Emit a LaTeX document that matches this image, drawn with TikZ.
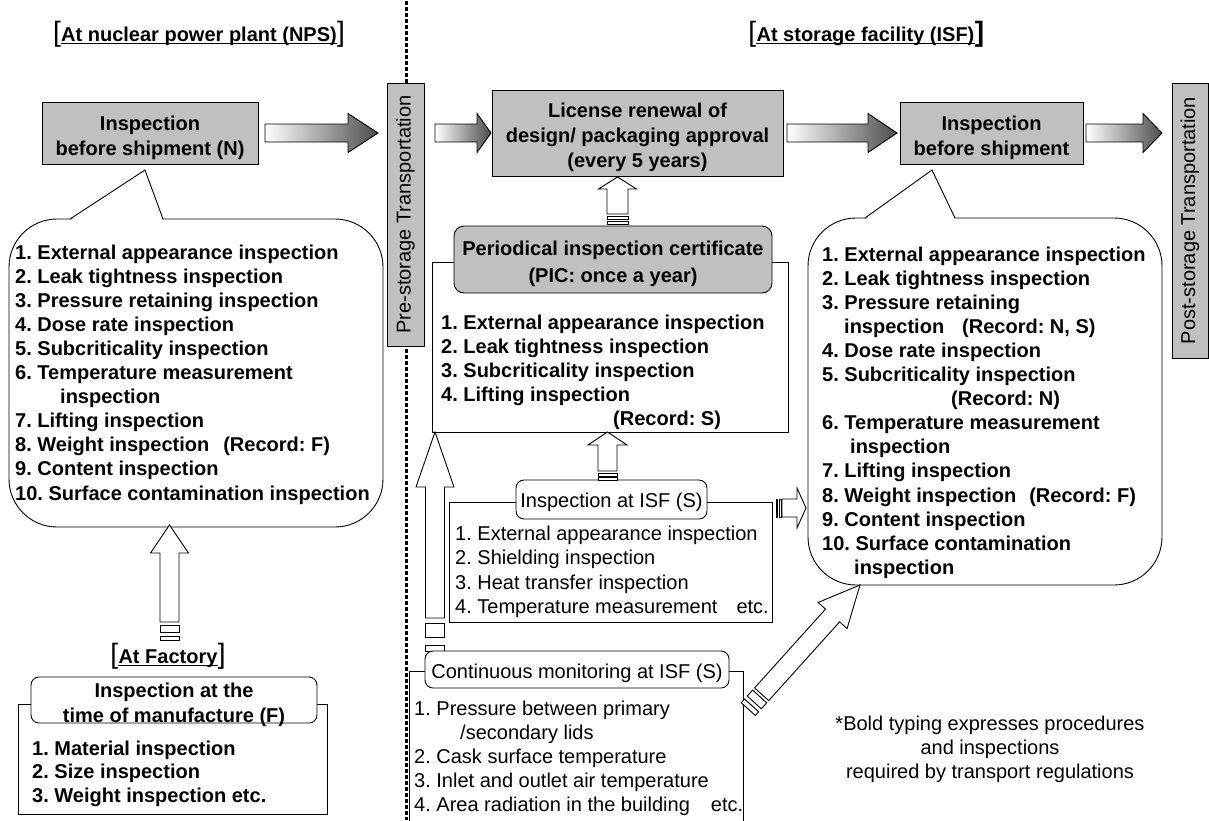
\documentclass[tikz,border=0pt]{standalone}
\usepackage{fontspec}
\setmainfont{Liberation Sans}
\frenchspacing
\definecolor{boxgray}{HTML}{C0C0C0}
\newcommand\blocklines[6]{%
  \foreach \t [count=\i] in {#6}{\node[anchor=base west,#2] (#1\i) at (#3,{#4+#5*(\i-1)}) {\t};}}
\newcommand\gradarrow[4]{%
  \draw[grad] (#1,#4-9) -- (#2-#3,#4-9) -- (#2-#3,#4-19.5) -- (#2,#4) -- (#2-#3,#4+19.5) -- (#2-#3,#4+9) -- (#1,#4+9) -- cycle;}
\newcommand\sarrow[8]{%
  \begin{scope}[shift={(#1,#2)},rotate=#3]
  \draw[hollow] (0,0) -- (-#4,#5) -- (-#4,#6) -- (-#7,#6) -- (-#7,-#6) -- (-#4,-#6) -- (-#4,-#5) -- cycle;
  \foreach \a/\b in {#8} {\draw[hollow] (-\a,-#6) rectangle (-\b,#6);}
  \end{scope}}
\begin{document}
\begin{tikzpicture}[x=1pt,y=-1pt,
  every node/.style={inner sep=0pt, font=\fontsize{20}{24}\selectfont},
  bf/.style={font=\fontsize{20}{24}\selectfont\bfseries},
  brk/.style={font=\fontsize{28}{28}\selectfont},
  brkb/.style={font=\fontsize{28}{28}\selectfont\bfseries},
  ln/.style={line width=0.9pt},
  graybox/.style={draw, line width=0.9pt, fill=boxgray},
  hollow/.style={draw, line width=0.9pt, fill=white},
  grad/.style={draw, line width=0.9pt, left color=white, right color=black!70},
  bubble/.style={draw, line width=0.9pt, fill=white, rounded corners=48pt}]
\useasboundingbox (0,0) rectangle (1209,820);

% dashed separator
\coordinate (dtop) at (406.5,1);
\coordinate (dbot) at (406.5,820);
\draw[line width=2.2pt, dash pattern=on 4pt off 2pt] (dtop) -- (dbot);

% titles
\node[bf, anchor=base] (tnps) at (199,41) {At nuclear power plant (NPS)};
\draw[line width=1.3pt] ([yshift=-2.5pt]tnps.base west) -- ([yshift=-2.5pt]tnps.base east);
\node[brk, anchor=base east] (tnpsl) at (tnps.base west) {[};
\node[brk, anchor=base west] (tnpsr) at (tnps.base east) {]};

\node[bf, anchor=base] (tisf) at (865.5,41) {At storage facility (ISF)};
\draw[line width=1.3pt] ([yshift=-2.5pt]tisf.base west) -- ([yshift=-2.5pt]tisf.base east);
\node[brk, anchor=base east] (tisfl) at (tisf.base west) {[};
\node[brkb, anchor=base west] (tisfr) at (tisf.base east) {]};

\node[bf, anchor=base] (tfac) at (168,663) {At Factory};
\draw[line width=1.3pt] ([yshift=-2.5pt]tfac.base west) -- ([yshift=-2.5pt]tfac.base east);
\node[brk, anchor=base east] (tfacl) at (tfac.base west) {[};
\node[brk, anchor=base west] (tfacr) at (tfac.base east) {]};

% top row boxes
\node[graybox, minimum width=216pt, minimum height=62pt] (nps) at (150,133) {};
\node[bf, anchor=base] (nps1) at (150,130) {Inspection};
\node[bf, anchor=base] (nps2) at (150,155) {before shipment (N)};

\node[graybox, minimum width=37pt, minimum height=263pt] (pre) at (405.5,214.5) {};
\node[rotate=90] (pret) at (pre.center) {Pre-storage Transportation};

\node[graybox, minimum width=291pt, minimum height=86pt] (lic) at (637.5,133) {};
\node[bf, anchor=base] (lic1) at (637.5,117) {License renewal of};
\node[bf, anchor=base] (lic2) at (637.5,142) {design/ packaging approval};
\node[bf, anchor=base] (lic3) at (637.5,167) {(every 5 years)};

\node[graybox, minimum width=183pt, minimum height=62pt] (isfb) at (991.5,133) {};
\node[bf, anchor=base] (isfb1) at (991.5,130) {Inspection};
\node[bf, anchor=base] (isfb2) at (991.5,155) {before shipment};

\node[graybox, minimum width=36pt, minimum height=275pt] (post) at (1190,220.5) {};
\node[rotate=90] (postt) at (post.center) {Post-storage Transportation};

% gradient arrows
\gradarrow{265}{378}{30}{133}
\gradarrow{435}{491}{14}{133}
\gradarrow{787}{897}{29}{133}
\gradarrow{1086}{1162}{19}{133}

% NPS bubble
\draw[bubble] (9,219) rectangle (383,527);
\fill[white] (70,221) -- (145,170) -- (163,221) -- cycle;
\coordinate (nbl) at (70,219); \coordinate (nba) at (145,170); \coordinate (nbr) at (163,219);
\draw[ln] (nbl) -- (nba) -- (nbr);
\blocklines{nl}{bf}{15}{259}{24.1}{1. External appearance inspection,2. Leak tightness inspection,3. Pressure retaining inspection,4. Dose rate inspection,5. Subcriticality inspection,6. Temperature measurement,{\hspace*{45pt}inspection},7. Lifting inspection,{8. Weight inspection\hspace{14pt}(Record: F)},9. Content inspection,10. Surface contamination inspection}

% ISF bubble
\draw[bubble] (808,218) rectangle (1162,585);
\fill[white] (865,220) -- (932,170) -- (955,220) -- cycle;
\coordinate (rbl) at (865,218); \coordinate (rba) at (932,170); \coordinate (rbr) at (955,218);
\draw[ln] (rbl) -- (rba) -- (rbr);
\blocklines{rl}{bf}{822}{261}{24.1}{1. External appearance inspection,2. Leak tightness inspection,3. Pressure retaining,{\hspace*{22pt}inspection\hspace{18pt}(Record: N, S)},4. Dose rate inspection,5. Subcriticality inspection,{\hspace*{129pt}(Record: N)},6. Temperature measurement,{\hspace*{28pt}inspection},7. Lifting inspection,{8. Weight inspection\hspace{13pt}(Record: F)},9. Content inspection,10. Surface contamination,{\hspace*{32pt}inspection}}

% PIC
\draw[ln, fill=white] (432,262) rectangle (788,432);
\draw[ln, fill=boxgray, rounded corners=10pt] (454,226) rectangle (772,293);
\node[bf, anchor=base] (pic1) at (613,255) {Periodical inspection certificate};
\node[bf, anchor=base] (pic2) at (613,282) {(PIC: once a year)};
\blocklines{pl}{bf}{441}{329}{24}{1. External appearance inspection,2. Leak tightness inspection,3. Subcriticality inspection,4. Lifting inspection,{\hspace*{172pt}(Record: S)}}

% ISF (S)
\draw[ln] (449,502) rectangle (772,622);
\draw[ln, fill=white, rounded corners=8pt] (516,480) rectangle (707,519);
\node[anchor=base] (isfs) at (611.5,507) {Inspection at ISF (S)};
\blocklines{sl}{}{455}{540}{24.5}{1. External appearance inspection,2. Shielding inspection,3. Heat transfer inspection,{4. Temperature measurement\hspace{19pt}etc.}}

% long left arrow
\sarrow{435}{432}{90}{55}{19}{9.5}{186}{191/205,213/219}

% Continuous monitoring
\draw[ln] (409,822) -- (409,671) -- (743,671) -- (743,822);
\draw[ln, fill=white, rounded corners=8pt] (425,651) rectangle (729,688);
\node[anchor=base] (cmt) at (577,678) {Continuous monitoring at ISF (S)};
\blocklines{cl}{}{414}{715}{24}{1. Pressure between primary,{\hspace*{46pt}/secondary lids},2. Cask surface temperature,3. Inlet and outlet air temperature,{4. Area radiation in the building\hspace{21pt}etc.}}

% Factory
\draw[ln] (18,704) rectangle (327,814);
\draw[ln, fill=white, rounded corners=8pt] (31,677) rectangle (317,723);
\node[bf, anchor=base] (fac1) at (174,697) {Inspection at the};
\node[bf, anchor=base] (fac2) at (174,722) {time of manufacture (F)};
\blocklines{fl}{bf}{32}{755}{23.5}{1. Material inspection,2. Size inspection,3. Weight inspection etc.}

% hollow striped arrows
\sarrow{169.5}{525}{90}{28}{19}{9.5}{97}{100/107,111/115}
\sarrow{617.5}{177}{90}{12}{19}{10.5}{37}{39/42,44/47}
\sarrow{607.5}{432}{90}{13}{19.5}{9.5}{39}{41/44,45.5/48}
\sarrow{806}{508}{0}{9}{20}{9}{24}{25/27,28.5/30}
\sarrow{860}{585}{48}{41}{19.5}{9.5}{147}{150/158,162/167}

% footnote
\node[anchor=base] (fn1) at (990,730) {*Bold typing expresses procedures};
\node[anchor=base] (fn2) at (990,754) {and inspections};
\node[anchor=base] (fn3) at (990,778) {required by transport regulations};
\end{tikzpicture}
\end{document}
